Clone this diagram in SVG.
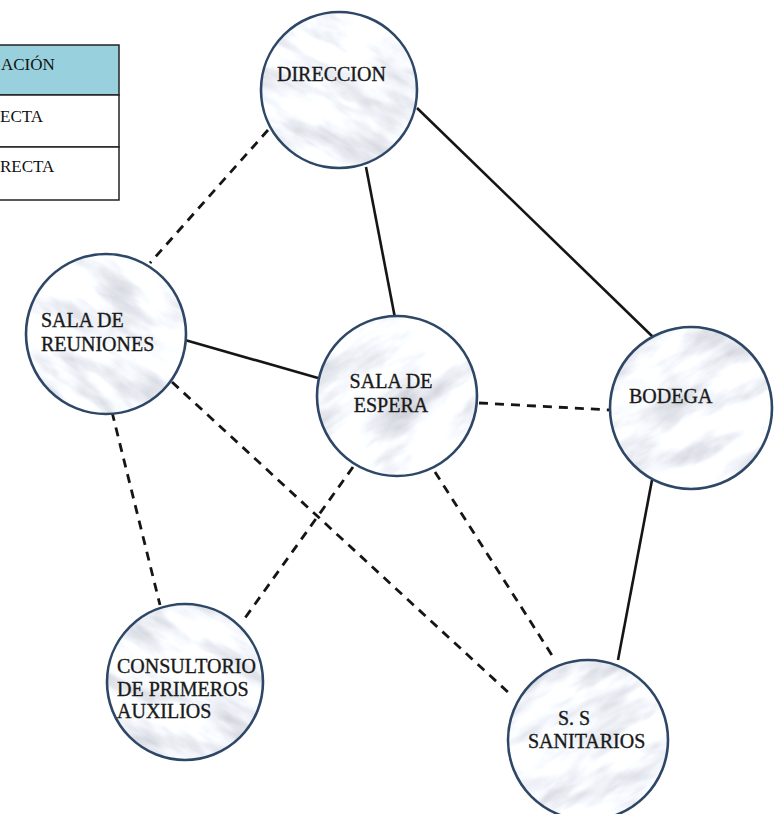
<svg xmlns="http://www.w3.org/2000/svg" width="780" height="814" viewBox="0 0 780 814">
  <style>
    .node-bg { fill: #ffffff; filter: url(#marble); }
    .node-ring { fill: none; stroke: #2e4766; stroke-width: 2.6; }
    .lbl { font-size: 20px; fill: #1a1a1a; stroke: #1a1a1a; stroke-width: 0.35; }
    .solid { stroke: #151515; stroke-width: 2.6; fill: none; }
    .dash { stroke: #151515; stroke-width: 2.8; fill: none; stroke-dasharray: 9 7; }
    .tbl { font-size: 17px; fill: #111; }
    .cell { stroke: #222; stroke-width: 1.5; }
  </style>
  <defs>
    <filter id="marble" x="0" y="0" width="100%" height="100%" color-interpolation-filters="sRGB">
      <feTurbulence type="fractalNoise" baseFrequency="0.014 0.04" numOctaves="4" seed="11" result="n"/>
      <feColorMatrix in="n" type="matrix" values="0.4 0.4 0.2 0 0  0.4 0.4 0.2 0 0  0.4 0.4 0.2 0 0  0 0 0 0 1" result="g"/>
      <feComponentTransfer in="g" result="c">
        <feFuncR type="linear" slope="0.7" intercept="0.62"/>
        <feFuncG type="linear" slope="0.7" intercept="0.63"/>
        <feFuncB type="linear" slope="0.66" intercept="0.67"/>
      </feComponentTransfer>
      <feComposite in="c" in2="SourceGraphic" operator="in"/>
    </filter>
  </defs>

  <rect width="780" height="814" fill="#ffffff"/>

  <g id="legend-table" font-family="'Liberation Serif', 'DejaVu Serif', serif">
    <rect x="-2" y="45" width="121" height="50" fill="#98d1dd" class="cell"/>
    <rect x="-2" y="95" width="121" height="52" fill="#ffffff" class="cell"/>
    <rect x="-2" y="147" width="121" height="53" fill="#ffffff" class="cell"/>
    <text class="tbl" x="1" y="70">ACIÓN</text>
    <text class="tbl" x="0" y="122">ECTA</text>
    <text class="tbl" x="0" y="172">RECTA</text>
  </g>

  <g id="connectors">
    <line class="solid" x1="366" y1="167" x2="395" y2="318"/>
    <line class="solid" x1="417" y1="108" x2="654" y2="338"/>
    <line class="solid" x1="185" y1="340" x2="318" y2="378"/>
    <line class="solid" x1="652" y1="480" x2="618" y2="660"/>
    <line class="dash" x1="268" y1="130" x2="150" y2="263"/>
    <line class="dash" x1="112" y1="412" x2="160" y2="605"/>
    <line class="dash" x1="172" y1="382" x2="510" y2="694"/>
    <line class="dash" x1="479" y1="403" x2="611" y2="410"/>
    <line class="dash" x1="353" y1="467" x2="245" y2="618"/>
    <line class="dash" x1="435" y1="472" x2="555" y2="660"/>
  </g>

  <g id="direccion" font-family="'Liberation Serif', 'DejaVu Serif', serif">
    <circle class="node-bg" cx="339" cy="90" r="78" transform="rotate(30 339 90)"/>
    <circle class="node-ring" cx="339" cy="90" r="78"/>
    <text class="lbl" x="277" y="81">DIRECCION</text>
  </g>

  <g id="sala-reuniones" font-family="'Liberation Serif', 'DejaVu Serif', serif">
    <circle class="node-bg" cx="106" cy="334" r="80" transform="rotate(35 106 334)"/>
    <circle class="node-ring" cx="106" cy="334" r="80"/>
    <text class="lbl" x="41" y="327">SALA DE</text>
    <text class="lbl" x="41" y="351">REUNIONES</text>
  </g>

  <g id="sala-espera" font-family="'Liberation Serif', 'DejaVu Serif', serif">
    <circle class="node-bg" cx="397" cy="396" r="80" transform="rotate(-35 397 396)"/>
    <circle class="node-ring" cx="397" cy="396" r="80"/>
    <text class="lbl" x="391" y="388" text-anchor="middle">SALA DE</text>
    <text class="lbl" x="391" y="412" text-anchor="middle">ESPERA</text>
  </g>

  <g id="bodega" font-family="'Liberation Serif', 'DejaVu Serif', serif">
    <circle class="node-bg" cx="691" cy="408" r="81" transform="rotate(-30 691 408)"/>
    <circle class="node-ring" cx="691" cy="408" r="81"/>
    <text class="lbl" x="629" y="403">BODEGA</text>
  </g>

  <g id="consultorio" font-family="'Liberation Serif', 'DejaVu Serif', serif">
    <circle class="node-bg" cx="185" cy="682" r="78" transform="rotate(30 185 682)"/>
    <circle class="node-ring" cx="185" cy="682" r="78"/>
    <text class="lbl" x="117" y="673" font-size="19">CONSULTORIO</text>
    <text class="lbl" x="117" y="696" font-size="19">DE PRIMEROS</text>
    <text class="lbl" x="117" y="718" font-size="19">AUXILIOS</text>
  </g>

  <g id="sanitarios" font-family="'Liberation Serif', 'DejaVu Serif', serif">
    <circle class="node-bg" cx="588" cy="740" r="80" transform="rotate(-30 588 740)"/>
    <circle class="node-ring" cx="588" cy="740" r="80"/>
    <text class="lbl" x="558" y="725">S. S</text>
    <text class="lbl" x="528" y="748">SANITARIOS</text>
  </g>
</svg>
